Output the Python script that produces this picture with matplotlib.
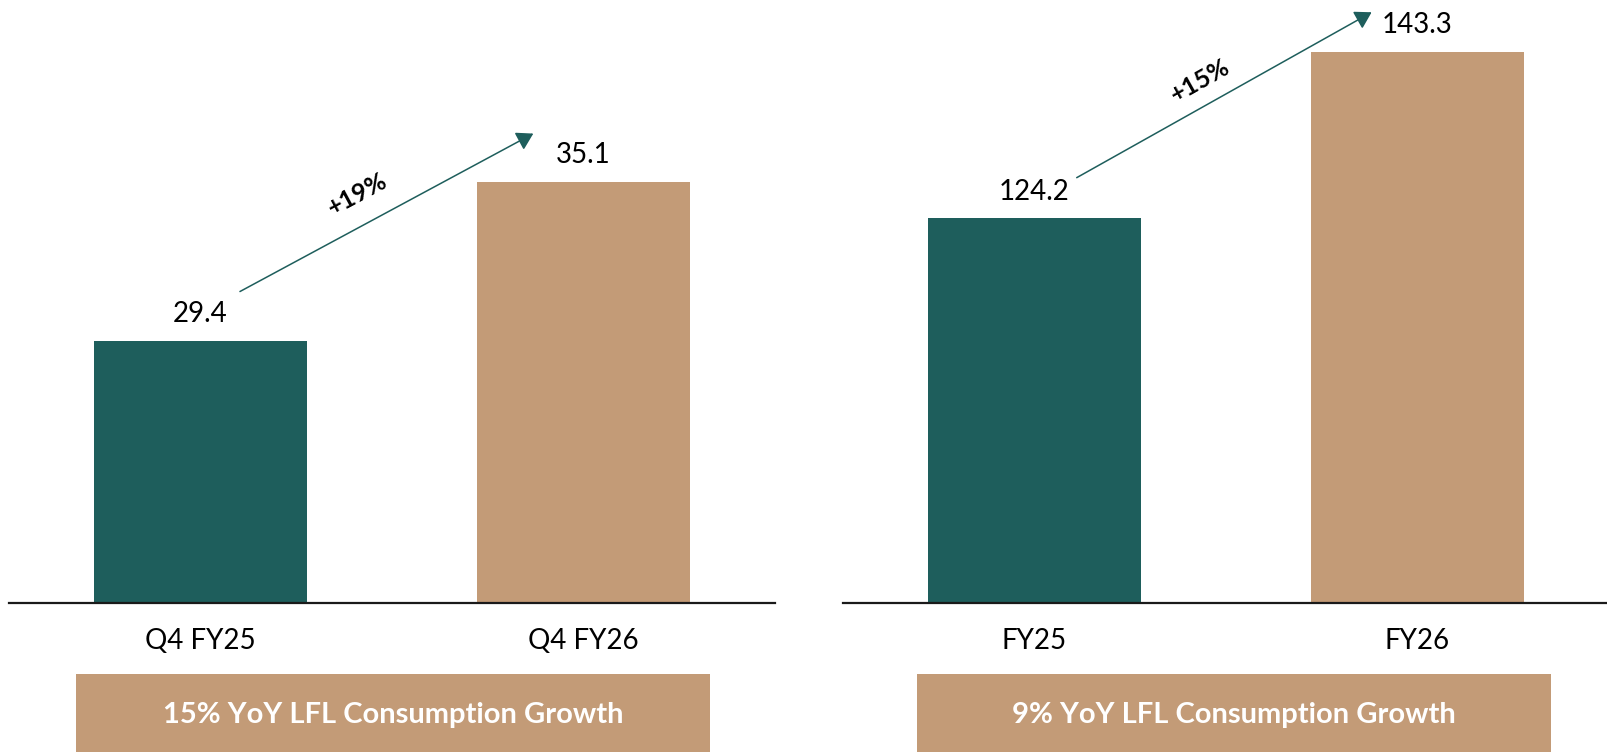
import math
import matplotlib
matplotlib.use("Agg")
import matplotlib.pyplot as plt
from matplotlib.patches import Rectangle

plt.rcParams['font.family'] = ['Lato', 'DejaVu Sans']

# ---- data ----
left_categories = ["Q4 FY25", "Q4 FY26"]
left_values = [29.4, 35.1]
left_growth = "+19%"
left_caption = "15% YoY LFL Consumption Growth"

right_categories = ["FY25", "FY26"]
right_values = [124.2, 143.3]
right_growth = "+15%"
right_caption = "9% YoY LFL Consumption Growth"

# ---- styles ----
TEAL = "#1E5E5C"
TAN = "#C39B77"
W, H = 1607, 752
DPI = 100

fig = plt.figure(figsize=(W / DPI, H / DPI), dpi=DPI)

def px_axes(x0, y_top, width, height):
    return fig.add_axes([x0 / W, (H - y_top - height) / H, width / W, height / H])

base_px = 602.7
axL = px_axes(9, 0, 766, base_px)
axR = px_axes(842.7, 0, 766, base_px)

panels = [
    (axL, left_categories, left_values, left_growth, (20, 41.61),
     (0.103, 49), (0.869, 48), 0.40, 34),
    (axR, right_categories, right_values, right_growth, (80, 149.26),
     (0.111, 40.4), (0.881, 39.6), 0.42, 27),
]

for ax, cats, vals, growth, ylim, a0, a1, tfrac, toff in panels:
    xs = list(range(len(cats)))
    ax.bar(xs, vals, width=0.556, color=[TEAL, TAN], zorder=2)
    ax.set_xlim(-0.5, 1.5)
    ax.set_ylim(*ylim)
    for s in ["top", "right", "left"]:
        ax.spines[s].set_visible(False)
    ax.spines["bottom"].set_color("#1a1a1a")
    ax.spines["bottom"].set_linewidth(1.6)
    ax.set_yticks([])
    ax.set_xticks(xs)
    ax.set_xticklabels(cats, fontsize=20, color="black")
    ax.tick_params(axis="x", length=0, pad=18)
    for x, v in zip(xs, vals):
        ax.annotate(f"{v:.1f}", xy=(x, v), xytext=(0, 13.3), textcoords="offset points",
                    ha="center", va="baseline", fontsize=20, color="black")
    # growth arrow (pixel offsets above bar tops converted to data units)
    ppu = base_px / (ylim[1] - ylim[0])
    x0, y0 = a0[0], vals[0] + a0[1] / ppu
    x1, y1 = a1[0], vals[1] + a1[1] / ppu
    ax.annotate("", xy=(x1, y1), xytext=(x0, y0),
                arrowprops=dict(arrowstyle="-|>,head_length=0.5,head_width=0.3",
                                color=TEAL, lw=1.1, mutation_scale=20,
                                shrinkA=0, shrinkB=0))
    dxp = (x1 - x0) * 383
    dyp = (y1 - y0) * ppu
    ang = math.degrees(math.atan2(dyp, dxp))
    tx = x0 + tfrac * (x1 - x0)
    ty = y0 + tfrac * (y1 - y0)
    ax.annotate(growth, xy=(tx, ty), xytext=(0, toff * 72 / DPI), textcoords="offset points",
                ha="center", va="center", rotation=ang, rotation_mode="anchor",
                fontsize=18, fontweight="bold", color="black")

# caption boxes
for x0, x1, cap in [(76, 710, left_caption), (916.8, 1551, right_caption)]:
    fig.patches.append(Rectangle((x0 / W, 0), (x1 - x0) / W, 78 / H,
                                 transform=fig.transFigure, facecolor=TAN,
                                 edgecolor="none", zorder=0))
    fig.text((x0 + x1) / 2 / W, (H - 715.5) / H, cap, ha="center", va="center",
             fontsize=21, fontweight="bold", color="white")

fig.savefig("out.png", dpi=DPI)
